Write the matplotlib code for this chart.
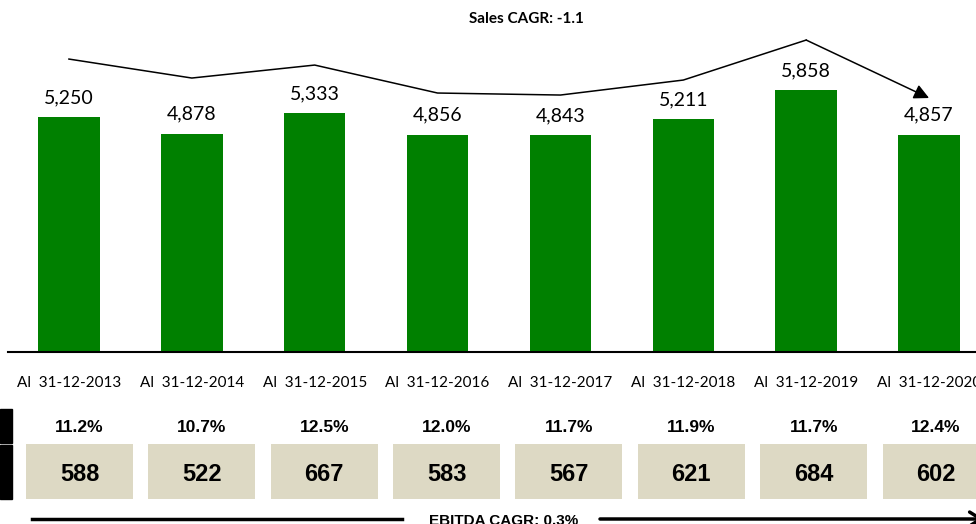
import numpy as np
import matplotlib
matplotlib.use('Agg')
import matplotlib.pyplot as plt
from matplotlib.patches import Rectangle

# data --------------------------------------------------------------
periods = ['Al  31-12-2013', 'Al  31-12-2014', 'Al  31-12-2015', 'Al  31-12-2016',
           'Al  31-12-2017', 'Al  31-12-2018', 'Al  31-12-2019', 'Al  31-12-2020']
sales = [5250, 4878, 5333, 4856, 4843, 5211, 5858, 4857]
# trend line drawn above the bars (same units as sales)
trend = [6547, 6123, 6413, 5788, 5743, 6078, 6972, 5676]
ebitda = [588, 522, 667, 583, 567, 621, 684, 602]
margin = ['11.2%', '10.7%', '12.5%', '12.0%', '11.7%', '11.9%', '11.7%', '12.4%']
sales_title = 'Sales CAGR: -1.1'
ebitda_title = 'EBITDA CAGR: 0.3%'

green = '#008000'
beige = '#DDD9C4'
W, H = 976, 524

fig = plt.figure(figsize=(W / 100, H / 100), dpi=100)

# main bar chart ----------------------------------------------------
ax = fig.add_axes([7.5 / W, (H - 352) / H, 983 / W, 349 / H])
x = np.arange(len(sales))
ax.bar(x, sales, width=0.5, color=green, zorder=2)
ax.set_xlim(-0.5, len(sales) - 0.5)
ax.set_ylim(0, 7800)
for s in ['top', 'right', 'left']:
    ax.spines[s].set_visible(False)
ax.spines['bottom'].set_linewidth(1.5)
ax.set_yticks([])
ax.set_xticks(x)
ax.set_xticklabels(periods, fontfamily='Lato', fontsize=11)
ax.tick_params(axis='x', length=0, pad=17)

for xi, v in zip(x, sales):
    ax.annotate(f'{v:,}', (xi, v), xytext=(0, 14), textcoords='offset points',
                ha='center', va='center', fontsize=14, fontfamily='Lato')

# trend line with arrow
ax.plot(x[:-1], trend[:-1], color='black', lw=1.1, clip_on=False)
ax.annotate('', xy=(x[-1], trend[-1]), xytext=(x[-2], trend[-2]),
            arrowprops=dict(arrowstyle='-|>,head_length=0.9,head_width=0.45',
                            color='black', lw=1.1, shrinkA=0, shrinkB=0))

fig.text(526 / W, 1 - 19 / H, sales_title, ha='center', va='center',
         fontsize=11, fontweight='bold', fontfamily='Lato')

# EBITDA boxes ------------------------------------------------------
axb = fig.add_axes([18.3 / W, (H - 499) / H, 979 / W, 55 / H])
axb.bar(x, [1] * len(ebitda), width=107 / 122.4, bottom=0, color=beige)
axb.set_xlim(-0.5, len(ebitda) - 0.5)
axb.set_ylim(0, 1)
axb.axis('off')
for xi, v in zip(x, ebitda):
    axb.text(xi, 0.45, str(v), ha='center', va='center', fontsize=17,
             fontweight='bold', fontfamily='Liberation Sans')
for xi, m in zip(x, margin):
    axb.text(xi, 1 + 17 / 55, m, ha='center', va='center', fontsize=12.5,
             fontweight='bold', fontfamily='Liberation Sans', clip_on=False)

# black markers on the left edge
ov = fig.add_axes([0, 0, 1, 1], facecolor='none')
ov.set_xlim(0, W)
ov.set_ylim(H, 0)
ov.axis('off')
ov.add_patch(Rectangle((0, 409), 12, 34, color='black'))
ov.add_patch(Rectangle((0, 445), 12, 54, color='black'))

# EBITDA CAGR arrow at the bottom
ov.plot([32, 402], [519, 519], color='black', lw=2.5)
ov.annotate('', xy=(984, 519), xytext=(600, 519), annotation_clip=False,
            arrowprops=dict(arrowstyle='->,head_length=0.8,head_width=0.5',
                            color='black', lw=2.5, shrinkA=0, shrinkB=0))
ov.text(504, 521, ebitda_title, ha='center', va='center', fontsize=11,
        fontweight='bold', fontfamily='Liberation Sans')

fig.savefig('out.png', dpi=100)
